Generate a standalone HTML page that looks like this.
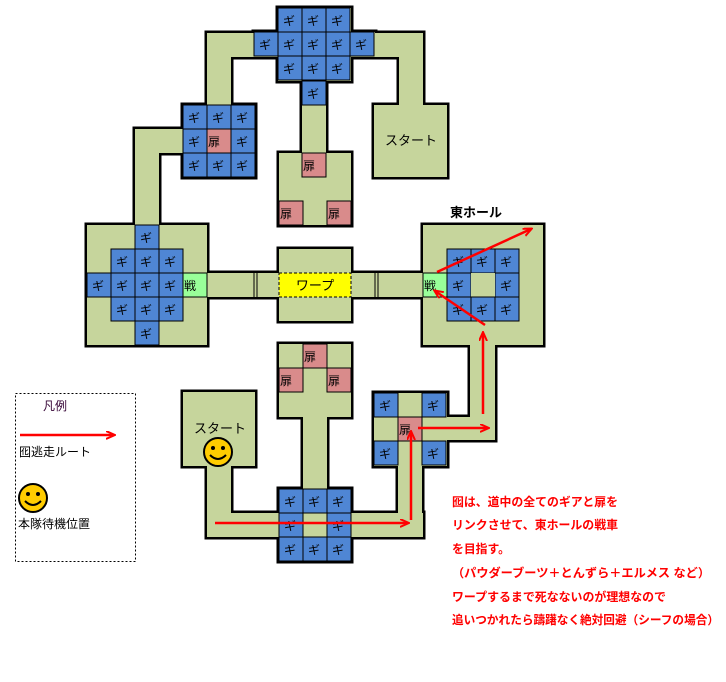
<!DOCTYPE html>
<html><head><meta charset="utf-8"><style>
body{margin:0;background:#fff;width:726px;height:677px;overflow:hidden}
svg text{font-family:"Liberation Sans","Noto Sans CJK JP",sans-serif}
.c{font-size:12px;fill:#000}
.r{font-size:12px;fill:#f00;font-weight:bold}
</style></head><body>
<svg width="726" height="677" viewBox="0 0 726 677" xmlns="http://www.w3.org/2000/svg">
<defs>
<g id="shapes">
<rect x="207" y="33" width="71" height="24"/><rect x="207" y="33" width="24" height="72"/>
<rect x="351" y="33" width="72" height="24"/><rect x="399" y="33" width="24" height="72"/>
<rect x="374" y="105" width="73" height="72"/><rect x="183" y="105" width="72" height="72"/>
<rect x="135" y="129" width="48" height="24"/><rect x="135" y="129" width="24" height="96"/>
<rect x="302" y="105" width="24" height="48"/><rect x="279" y="153" width="72" height="72"/>
<rect x="278" y="8" width="73" height="73"/><rect x="254" y="32" width="121" height="25"/><rect x="302" y="81" width="24" height="24"/>
<rect x="87" y="225" width="120" height="120"/><rect x="207" y="273" width="216" height="24"/>
<rect x="279" y="249" width="72" height="72"/><rect x="423" y="225" width="120" height="120"/>
<rect x="470" y="345" width="25" height="95"/><rect x="422" y="417" width="73" height="23"/>
<rect x="374" y="393" width="73" height="73"/><rect x="398" y="466" width="24" height="71"/>
<rect x="207" y="513" width="216" height="24"/><rect x="207" y="466" width="24" height="71"/>
<rect x="183" y="392" width="72" height="74"/><rect x="279" y="489" width="72" height="72"/>
<rect x="303" y="417" width="24" height="72"/><rect x="279" y="344" width="72" height="73"/>
</g>
<g id="sm"><circle r="14" fill="#fc0" stroke="#000" stroke-width="2"/><circle cx="-5" cy="-4" r="2"/><circle cx="5" cy="-4" r="2"/><path d="M-8 3 Q0 11 8 3" fill="none" stroke="#000" stroke-width="2"/></g>
<marker id="ah" markerWidth="10" markerHeight="10" refX="8" refY="4" orient="auto" markerUnits="userSpaceOnUse"><path d="M0 0 L9 4 L0 8" fill="none" stroke="#f00" stroke-width="2"/></marker>
</defs>
<use href="#shapes" fill="#000" stroke="#000" stroke-width="5"/>
<use href="#shapes" fill="#c6d59c" stroke="none"/>
<g stroke="#000" stroke-width="1" fill="#4f86d4">
<rect x="278" y="8" width="24" height="24"/><rect x="302" y="8" width="24" height="24"/><rect x="326" y="8" width="24" height="24"/>
<rect x="254" y="32" width="24" height="24"/><rect x="278" y="32" width="24" height="24"/><rect x="302" y="32" width="24" height="24"/><rect x="326" y="32" width="24" height="24"/><rect x="350" y="32" width="24" height="24"/>
<rect x="278" y="56" width="24" height="24"/><rect x="302" y="56" width="24" height="24"/><rect x="326" y="56" width="24" height="24"/><rect x="302" y="81" width="24" height="24"/>
<rect x="183" y="105" width="24" height="24"/><rect x="207" y="105" width="24" height="24"/><rect x="231" y="105" width="24" height="24"/>
<rect x="183" y="129" width="24" height="24"/><rect x="231" y="129" width="24" height="24"/>
<rect x="183" y="153" width="24" height="24"/><rect x="207" y="153" width="24" height="24"/><rect x="231" y="153" width="24" height="24"/>
<rect x="135" y="225" width="24" height="24"/>
<rect x="111" y="249" width="24" height="24"/><rect x="135" y="249" width="24" height="24"/><rect x="159" y="249" width="24" height="24"/>
<rect x="87" y="273" width="24" height="24"/><rect x="111" y="273" width="24" height="24"/><rect x="135" y="273" width="24" height="24"/><rect x="159" y="273" width="24" height="24"/>
<rect x="111" y="297" width="24" height="24"/><rect x="135" y="297" width="24" height="24"/><rect x="159" y="297" width="24" height="24"/>
<rect x="135" y="321" width="24" height="24"/>
<rect x="447" y="249" width="24" height="24"/><rect x="471" y="249" width="24" height="24"/><rect x="495" y="249" width="24" height="24"/>
<rect x="447" y="273" width="24" height="24"/><rect x="495" y="273" width="24" height="24"/><rect x="471" y="273" width="24" height="24" fill="#c6d59c" stroke="none"/>
<rect x="447" y="297" width="24" height="24"/><rect x="471" y="297" width="24" height="24"/><rect x="495" y="297" width="24" height="24"/>
<rect x="374" y="393" width="24" height="24"/><rect x="422" y="393" width="24" height="24"/><rect x="374" y="441" width="24" height="24"/><rect x="422" y="441" width="24" height="24"/>
<rect x="279" y="489" width="24" height="24"/><rect x="303" y="489" width="24" height="24"/><rect x="327" y="489" width="24" height="24"/>
<rect x="279" y="513" width="24" height="24"/><rect x="327" y="513" width="24" height="24"/>
<rect x="279" y="537" width="24" height="24"/><rect x="303" y="537" width="24" height="24"/><rect x="327" y="537" width="24" height="24"/>
</g>
<g stroke="#000" stroke-width="1" fill="#d98b8b">
<rect x="207" y="129" width="24" height="24"/><rect x="302" y="153" width="24" height="24"/><rect x="279" y="201" width="24" height="24"/><rect x="327" y="201" width="24" height="24"/>
<rect x="303" y="344" width="24" height="24"/><rect x="279" y="368" width="24" height="24"/><rect x="327" y="368" width="24" height="24"/><rect x="398" y="417" width="24" height="24"/>
</g>
<g stroke="#000" stroke-width="1" fill="#99ff99"><rect x="183" y="273" width="24" height="24"/><rect x="423" y="273" width="24" height="24"/></g>
<rect x="279" y="273" width="72" height="24" fill="#ffff00" stroke="#000" stroke-dasharray="3,2"/>
<g stroke="#000" stroke-width="1"><line x1="254" y1="273" x2="254" y2="297"/><line x1="257" y1="273" x2="257" y2="297"/><line x1="375" y1="273" x2="375" y2="297"/><line x1="378" y1="273" x2="378" y2="297"/></g>
<g class="c">
<text x="283" y="25">ギ</text><text x="307" y="25">ギ</text><text x="331" y="25">ギ</text>
<text x="259" y="49">ギ</text><text x="283" y="49">ギ</text><text x="307" y="49">ギ</text><text x="331" y="49">ギ</text><text x="355" y="49">ギ</text>
<text x="283" y="73">ギ</text><text x="307" y="73">ギ</text><text x="331" y="73">ギ</text><text x="307" y="98">ギ</text>
<text x="188" y="122">ギ</text><text x="212" y="122">ギ</text><text x="236" y="122">ギ</text>
<text x="188" y="146">ギ</text><text x="208" y="146">扉</text><text x="236" y="146">ギ</text>
<text x="188" y="170">ギ</text><text x="212" y="170">ギ</text><text x="236" y="170">ギ</text>
<text x="140" y="242">ギ</text><text x="116" y="266">ギ</text><text x="140" y="266">ギ</text><text x="164" y="266">ギ</text>
<text x="92" y="290">ギ</text><text x="116" y="290">ギ</text><text x="140" y="290">ギ</text><text x="164" y="290">ギ</text><text x="184" y="290">戦</text>
<text x="116" y="314">ギ</text><text x="140" y="314">ギ</text><text x="164" y="314">ギ</text><text x="140" y="338">ギ</text>
<text x="452" y="266">ギ</text><text x="476" y="266">ギ</text><text x="500" y="266">ギ</text>
<text x="424" y="290">戦</text><text x="452" y="290">ギ</text><text x="500" y="290">ギ</text>
<text x="452" y="314">ギ</text><text x="476" y="314">ギ</text><text x="500" y="314">ギ</text>
<text x="303" y="170">扉</text><text x="280" y="218">扉</text><text x="328" y="218">扉</text>
<text x="304" y="361">扉</text><text x="280" y="385">扉</text><text x="328" y="385">扉</text><text x="399" y="434">扉</text>
<text x="379" y="410">ギ</text><text x="427" y="410">ギ</text><text x="379" y="458">ギ</text><text x="427" y="458">ギ</text>
<text x="284" y="506">ギ</text><text x="308" y="506">ギ</text><text x="332" y="506">ギ</text>
<text x="284" y="530">ギ</text><text x="332" y="530">ギ</text>
<text x="284" y="554">ギ</text><text x="308" y="554">ギ</text><text x="332" y="554">ギ</text>
</g>
<text x="315" y="290" font-size="13" text-anchor="middle">ワープ</text>
<text x="411" y="145" font-size="13" text-anchor="middle">スタート</text>
<text x="220" y="433" font-size="13" text-anchor="middle">スタート</text>
<text x="476" y="217" font-size="13" font-weight="bold" text-anchor="middle">東ホール</text>
<use href="#sm" x="218" y="452"/>
<g stroke="#f00" stroke-width="2.5" fill="none" marker-end="url(#ah)">
<line x1="215" y1="523" x2="408" y2="523"/>
<line x1="411" y1="520" x2="411" y2="432"/>
<line x1="418" y1="428" x2="488" y2="428"/>
<line x1="483" y1="414" x2="483" y2="333"/>
<line x1="485" y1="325" x2="435" y2="291"/>
<line x1="437" y1="272" x2="531" y2="229"/>
</g>
<rect x="15.5" y="393.5" width="120" height="168" fill="none" stroke="#000" stroke-dasharray="2,2"/>
<text x="43" y="410" font-size="12" fill="#303">凡例</text>
<line x1="20" y1="435" x2="114" y2="435" stroke="#f00" stroke-width="2.5" marker-end="url(#ah)"/>
<text x="19" y="456" font-size="12">囮逃走ルート</text>
<use href="#sm" x="33" y="498"/>
<text x="18" y="528" font-size="12">本隊待機位置</text>
<g class="r">
<text x="452" y="506" textLength="166" lengthAdjust="spacingAndGlyphs">囮は、道中の全てのギアと扉を</text>
<text x="452" y="529" textLength="166" lengthAdjust="spacingAndGlyphs">リンクさせて、東ホールの戦車</text>
<text x="452" y="553" textLength="58" lengthAdjust="spacingAndGlyphs">を目指す。</text>
<text x="452" y="577" textLength="258" lengthAdjust="spacingAndGlyphs">（パウダーブーツ＋とんずら＋エルメス など）</text>
<text x="452" y="601" textLength="214" lengthAdjust="spacingAndGlyphs">ワープするまで死なないのが理想なので</text>
<text x="452" y="624" textLength="267" lengthAdjust="spacingAndGlyphs">追いつかれたら躊躇なく絶対回避（シーフの場合）</text>
</g>
</svg>
</body></html>
